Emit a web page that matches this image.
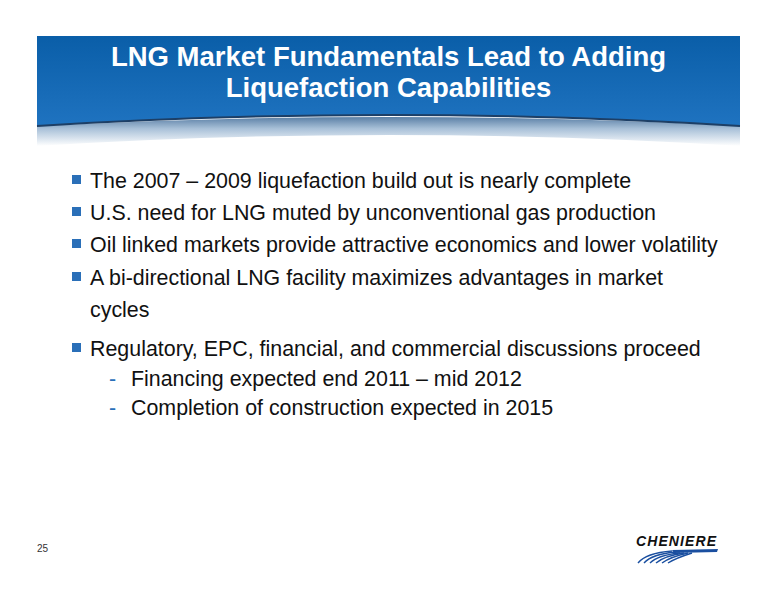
<!DOCTYPE html>
<html>
<head>
<meta charset="utf-8">
<script src="https://cdn.jsdelivr.net/npm/chart.js@4"></script>
<style>
  body { margin:0; width:776px; height:600px; background:#fff; font-family:"Liberation Sans", Arial, sans-serif; position:relative; overflow:hidden; }
  #banner { position:absolute; left:0; top:0; }
  h1 { position:absolute; left:37px; width:703px; top:41px; margin:0; text-align:center; color:#fff; font-size:27.5px; font-weight:bold; line-height:31px; }
  .b { position:absolute; left:90px; font-size:21.4px; color:#111; line-height:32px; white-space:nowrap; }
  .b::before { content:""; position:absolute; left:-18px; top:10px; width:9px; height:9px; background:#2a6fb8; }
  .s { position:absolute; left:131px; font-size:21.4px; color:#111; white-space:nowrap; }
  .s::before { content:"-"; position:absolute; left:-22px; color:#2a6fb8; }
  .pg { position:absolute; left:37px; top:543px; font-size:10px; color:#333; }
</style>
</head>
<body>
<svg id="banner" width="776" height="160">
  <defs>
    <linearGradient id="blue" x1="0" y1="0" x2="0" y2="1">
      <stop offset="0" stop-color="#0a5ea8"/>
      <stop offset="1" stop-color="#1f73c0"/>
    </linearGradient>
    <linearGradient id="sh" x1="0" y1="0" x2="0" y2="1">
      <stop offset="0" stop-color="#5a7fa5"/>
      <stop offset="0.4" stop-color="#a8c0d8"/>
      <stop offset="1" stop-color="#ffffff"/>
    </linearGradient>
  </defs>
  <path d="M37 126 Q388 108 740 126 L740 146 Q388 124 37 146 Z" fill="url(#sh)"/>
  <path d="M37 36 L740 36 L740 126 Q388 104 37 126 Z" fill="url(#blue)"/>
  <path d="M37 126 Q388 104 740 126" stroke="#1d3f66" stroke-width="2" fill="none"/>
</svg>
<h1>LNG Market Fundamentals Lead to Adding<br>Liquefaction Capabilities</h1>
<div class="b" style="top:165px">The 2007 – 2009 liquefaction build out is nearly complete</div>
<div class="b" style="top:197px">U.S. need for LNG muted by unconventional gas production</div>
<div class="b" style="top:229px">Oil linked markets provide attractive economics and lower volatility</div>
<div class="b" style="top:262px">A bi-directional LNG facility maximizes advantages in market<br>cycles</div>
<div class="b" style="top:333px">Regulatory, EPC, financial, and commercial discussions proceed</div>
<div class="s" style="top:367px">Financing expected end 2011 – mid 2012</div>
<div class="s" style="top:396px">Completion of construction expected in 2015</div>
<div class="pg">25</div>
<svg style="position:absolute;left:632px;top:532px" width="90" height="36">
  <text x="4" y="14" font-family="Liberation Sans" font-weight="bold" font-style="italic" font-size="14" fill="#111" textLength="80">CHENIERE</text>
  <path d="M40 18 L86 17 L85 20 L42 21 Z" fill="#1a4fa0"/>
  <g stroke="#1a4fa0" stroke-width="1.4" fill="none">
    <path d="M6 31 Q14 21 40 19"/><path d="M12 31 Q20 22 44 20"/>
    <path d="M18 31 Q26 23 48 21"/><path d="M24 31 Q32 24 52 21"/>
    <path d="M30 31 Q38 25 56 21"/><path d="M36 31 Q44 26 60 21"/>
  </g>
</svg>
</body>
</html>
